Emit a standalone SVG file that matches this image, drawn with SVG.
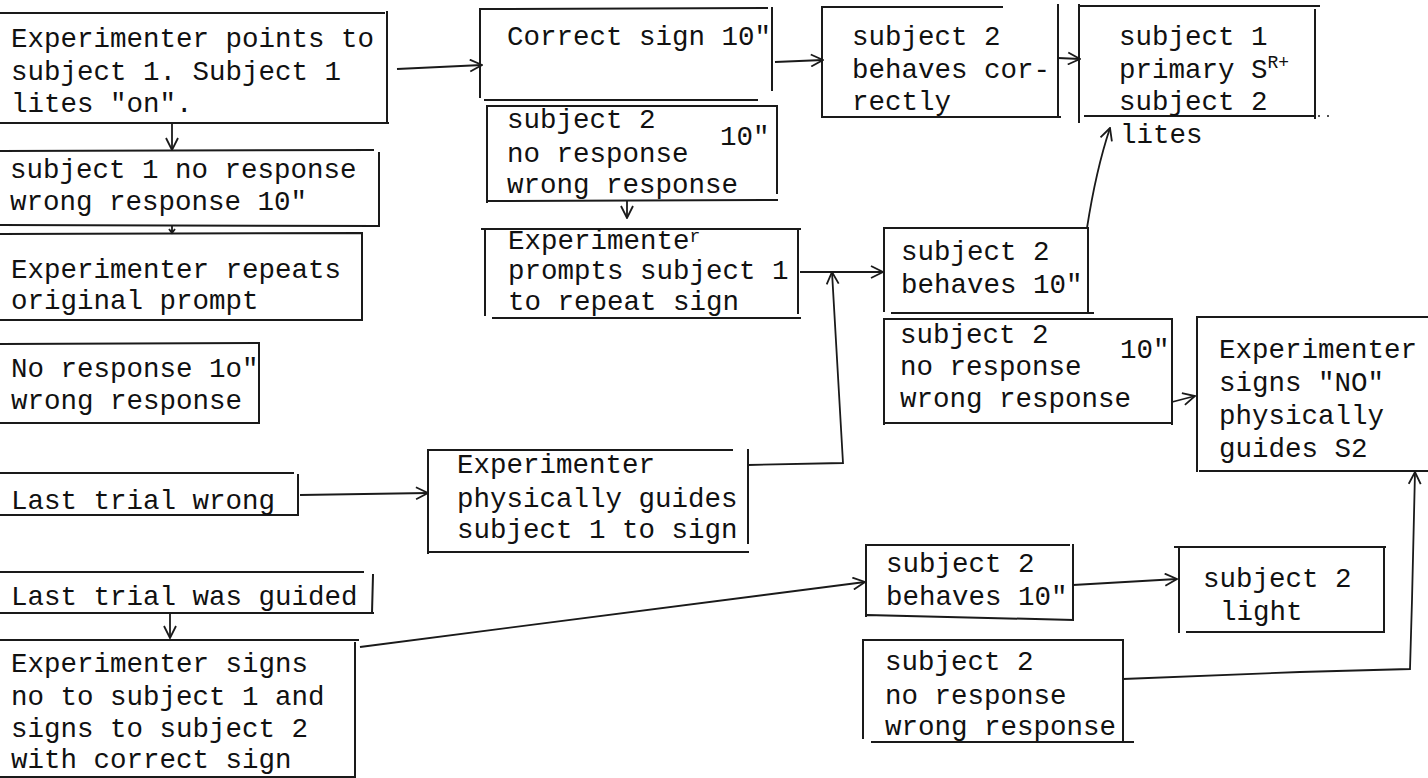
<svg xmlns="http://www.w3.org/2000/svg" width="1428" height="778" viewBox="0 0 1428 778">
<style>
.b{fill:none;stroke:#1a1a1a;stroke-width:2;stroke-linecap:square}
.c{fill:none;stroke:#1a1a1a;stroke-width:1.8}
.t{font-family:"Liberation Mono","Courier New",monospace;font-size:27.5px;fill:#111}
.s{font-size:18px}
</style>
<defs>
<marker id="arr" viewBox="0 0 14 14" refX="13" refY="7" markerWidth="14" markerHeight="14" markerUnits="userSpaceOnUse" orient="auto">
<path d="M1,1 L13,7 L1,13" fill="none" stroke="#1a1a1a" stroke-width="1.8"/>
</marker>
</defs>
<rect width="1428" height="778" fill="#fff"/>

<g id="nA">
<path class="b" d="M0,13 L384,13 M387,12 L387,123 M0,123 L388,123"/>
<text class="t" x="11" y="47">Experimenter points to</text>
<text class="t" x="11" y="80">subject 1. Subject 1</text>
<text class="t" x="11" y="112">lites "on".</text>
</g>
<g id="nB">
<path class="b" d="M0,151 L373,150 M379,153 L379,226 M0,225 L379,226"/>
<text class="t" x="10" y="178">subject 1 no response</text>
<text class="t" x="10" y="210">wrong response 10"</text>
</g>
<g id="nC">
<path class="b" d="M0,234 L361,233 M362,233 L362,320 M0,320 L362,320"/>
<text class="t" x="11" y="278">Experimenter repeats</text>
<text class="t" x="11" y="309">original prompt</text>
</g>
<g id="nD">
<path class="b" d="M0,344 L259,343 M259,343 L259,423 M0,423 L259,423"/>
<text class="t" x="11" y="377">No response 1o"</text>
<text class="t" x="11" y="409">wrong response</text>
</g>
<g id="nE">
<path class="b" d="M0,473 L293,473 M298,475 L298,515 M0,515 L298,515"/>
<text class="t" x="11" y="509">Last trial wrong</text>
</g>
<g id="nT">
<path class="b" d="M0,572 L363,572 M373,575 L372,613 M0,613 L373,613"/>
<text class="t" x="11" y="605">Last trial was guided</text>
</g>
<g id="nR">
<path class="b" d="M0,640 L358,640 M355,643 L355,777 M0,777 L355,777"/>
<text class="t" x="11" y="672">Experimenter signs</text>
<text class="t" x="11" y="705">no to subject 1 and</text>
<text class="t" x="11" y="737">signs to subject 2</text>
<text class="t" x="11" y="768">with correct sign</text>
</g>
<g id="nG">
<path class="b" d="M480,9 L767,8 M480,10 L480,97 M772,8 L772,90 M485,100 L757,100"/>
<text class="t" x="507" y="45">Correct sign 10"</text>
</g>
<g id="nH">
<path class="b" d="M487,106 L777,106 M487,106 L487,202 M777,106 L777,193 M487,201 L777,200"/>
<text class="t" x="507" y="128">subject 2</text>
<text class="t" x="507" y="162">no response</text>
<text class="t" x="507" y="193">wrong response</text>
<text class="t" x="720" y="145">10"</text>
</g>
<g id="nI">
<path class="b" d="M482,229 L800,229 M485,229 L485,315 M798,229 L798,313 M493,318 L800,318"/>
<text class="t" x="508" y="249">Experimente<tspan class="s" dy="-7">r</tspan></text>
<text class="t" x="508" y="279">prompts subject 1</text>
<text class="t" x="508" y="310">to repeat sign</text>
</g>
<g id="nF">
<path class="b" d="M428,450 L732,450 M428,450 L428,553 M748,450 L748,543 M428,552 L748,552"/>
<text class="t" x="457" y="473">Experimenter</text>
<text class="t" x="457" y="507">physically guides</text>
<text class="t" x="457" y="538">subject 1 to sign</text>
</g>
<g id="nK">
<path class="b" d="M822,7 L1002,7 M822,7 L822,117 M1058,5 L1058,117 M822,117 L1060,117"/>
<text class="t" x="852" y="45">subject 2</text>
<text class="t" x="852" y="78">behaves cor-</text>
<text class="t" x="852" y="110">rectly</text>
</g>
<g id="nL">
<path class="b" d="M1079,5 L1079,122 M1079,6 L1319,6 M1315,10 L1315,118 M1085,116 L1315,116"/>
<path d="M1318,116 L1334,116" fill="none" stroke="#1a1a1a" stroke-width="1.5" stroke-dasharray="2,7"/>
<text class="t" x="1119" y="45">subject 1</text>
<text class="t" x="1119" y="78">primary S<tspan class="s" dy="-10">R+</tspan></text>
<text class="t" x="1119" y="110">subject 2</text>
<text class="t" x="1120" y="143">lites</text>
</g>
<g id="nM">
<path class="b" d="M884,228 L1087,228 M884,228 L884,311 M1088,228 L1088,313 M892,313 L1093,313"/>
<text class="t" x="901" y="260">subject 2</text>
<text class="t" x="901" y="293">behaves 10"</text>
</g>
<g id="nN">
<path class="b" d="M884,319 L1172,319 M884,319 L884,424 M1172,319 L1172,424 M886,423 L1172,423"/>
<text class="t" x="900" y="343">subject 2</text>
<text class="t" x="900" y="375">no response</text>
<text class="t" x="900" y="407">wrong response</text>
<text class="t" x="1120" y="358">10"</text>
</g>
<g id="nO">
<path class="b" d="M1197,317 L1428,317 M1197,317 L1197,471 M1200,471 L1428,471"/>
<text class="t" x="1219" y="358">Experimenter</text>
<text class="t" x="1219" y="391">signs "NO"</text>
<text class="t" x="1219" y="424">physically</text>
<text class="t" x="1219" y="457">guides S2</text>
</g>
<g id="nP">
<path class="b" d="M866,545 L1069,545 M866,545 L866,616 M1073,545 L1073,620 M867,615 L1073,620"/>
<text class="t" x="886" y="572">subject 2</text>
<text class="t" x="886" y="605">behaves 10"</text>
</g>
<g id="nS">
<path class="b" d="M1175,547 L1385,547 M1179,549 L1179,632 M1384,547 L1384,632 M1187,632 L1384,632"/>
<text class="t" x="1203" y="587">subject 2</text>
<text class="t" x="1220" y="620">light</text>
</g>
<g id="nQ">
<path class="b" d="M863,640 L1123,640 M863,640 L863,738 M1123,642 L1123,742 M872,742 L1133,742"/>
<text class="t" x="885" y="670">subject 2</text>
<text class="t" x="885" y="704">no response</text>
<text class="t" x="885" y="735">wrong response</text>
</g>

<g id="connectors">
<path class="c" d="M397,69 L482,65" marker-end="url(#arr)"/>
<path class="c" d="M172,124 L172,150" marker-end="url(#arr)"/>
<path class="c" d="M172,226 L172,233 M169,229 L172,233 L175,229"/>
<path class="c" d="M775,62 L823,60" marker-end="url(#arr)"/>
<path class="c" d="M1058,58 L1080,59" marker-end="url(#arr)"/>
<path class="c" d="M627,201 L627,218" marker-end="url(#arr)"/>
<path class="c" d="M800,272 L883,272" marker-end="url(#arr)"/>
<path class="c" d="M748,465 L843,463 L832,272" marker-end="url(#arr)"/>
<path class="c" d="M1087,228 Q1096,170 1110,128" marker-end="url(#arr)"/>
<path class="c" d="M300,495 L428,493" marker-end="url(#arr)"/>
<path class="c" d="M1172,402 L1195,396" marker-end="url(#arr)"/>
<path class="c" d="M170,613 L170,638" marker-end="url(#arr)"/>
<path class="c" d="M360,647 L865,582" marker-end="url(#arr)"/>
<path class="c" d="M1073,585 L1177,579" marker-end="url(#arr)"/>
<path class="c" d="M1123,679 L1300,672 L1410,669 L1412,600 L1415,472" marker-end="url(#arr)"/>
</g>
</svg>
